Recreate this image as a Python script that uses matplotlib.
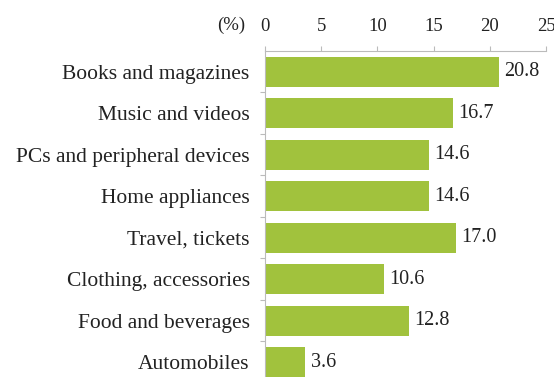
import matplotlib
matplotlib.use("Agg")
import matplotlib.pyplot as plt

categories = ["Books and magazines", "Music and videos", "PCs and peripheral devices",
              "Home appliances", "Travel, tickets", "Clothing, accessories",
              "Food and beverages", "Automobiles"]
values = [20.8, 16.7, 14.6, 14.6, 17.0, 10.6, 12.8, 3.6]
xticks = [0, 5, 10, 15, 20, 25]

plt.rcParams["font.family"] = ["Liberation Serif", "DejaVu Serif"]

W, H = 554, 377
fig = plt.figure(figsize=(W / 100, H / 100), dpi=100)
left, right, top = 265, 546, 51
ax = fig.add_axes([left / W, 0, (right - left) / W, 1 - top / H])

bar_color = "#a1c23d"
pos = list(range(len(categories)))
ax.barh(pos, values, height=0.72, color=bar_color, edgecolor="none")
ax.set_ylim(7.36, -0.5)
ax.set_xlim(0, 25)

for p, v in zip(pos, values):
    ax.text(v + 0.45, p, f"{v:.1f}", va="center", ha="left", fontsize=14.5, color="#222222")

ax.xaxis.tick_top()
ax.set_xticks(xticks)
ax.set_xticklabels([str(t) for t in xticks], fontsize=13.5, color="#222222")
ax.tick_params(axis="x", direction="out", length=3.6, width=0.8, color="#bbbbbb", pad=8)

ax.set_yticks(pos)
ax.set_yticklabels(categories, fontsize=15.5, color="#222222")
ax.tick_params(axis="y", length=0, pad=11)
# category separators on the left spine
ax.set_yticks([p + 0.5 for p in pos[:-1]], minor=True)
ax.tick_params(axis="y", which="minor", direction="out", length=3.6, width=0.8, color="#bbbbbb")

for s in ["right", "bottom"]:
    ax.spines[s].set_visible(False)
for s in ["top", "left"]:
    ax.spines[s].set_color("#bbbbbb")
    ax.spines[s].set_linewidth(0.8)

fig.text(231 / W, 1 - 25 / H, "(%)", ha="center", va="center", fontsize=13.5, color="#222222")

fig.savefig("out.png", dpi=100)
